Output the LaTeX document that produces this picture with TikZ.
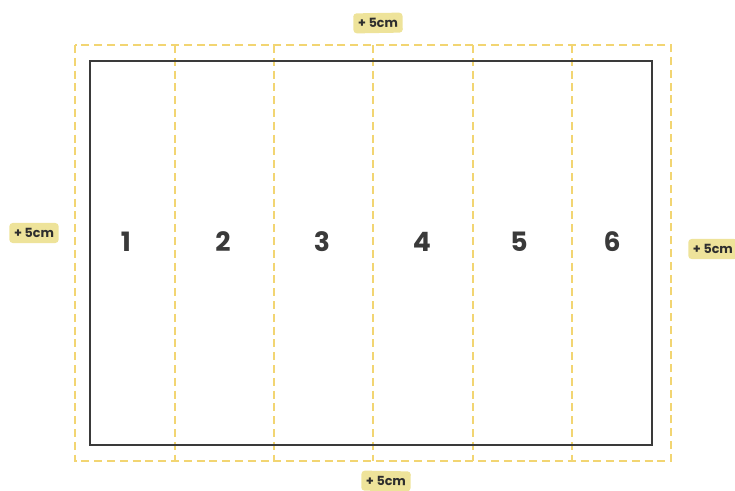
\documentclass[tikz,border=0pt]{standalone}
\usepackage{fontspec}
\setmainfont{Poppins}
\usepackage{xcolor}
\usepackage{tikz}
\usetikzlibrary{positioning}
\definecolor{PanelDark}{HTML}{3A3A3A}
\definecolor{BleedGold}{HTML}{F2D572}
\definecolor{TagGold}{HTML}{EEE39A}
\definecolor{TagText}{HTML}{2E2E2E}
\tikzset{
  trimline/.style={draw=PanelDark,line width=1.6pt},
  bleedline/.style={draw=BleedGold,line width=0.9pt,dash pattern=on 6pt off 3.6pt},
  panelnum/.style={font=\bfseries\fontsize{20}{20}\selectfont,text=PanelDark},
  bleedtag/.style={fill=TagGold,rounded corners=2.5pt,inner xsep=3.5pt,inner ysep=4pt,font=\bfseries\fontsize{9.5}{10}\selectfont,text=TagText}
}

\begin{document}
\begin{tikzpicture}[x=0.75pt,y=-0.75pt]
\useasboundingbox (0,0) rectangle (735,490);
% bleed frame and fold lines
\draw[bleedline] (75,45) rectangle (671,461);
\foreach \xf in {175,274,373,473,572}
  \draw[bleedline] (\xf,45) -- (\xf,461);
% trimmed sheet
\draw[trimline] (90,61) rectangle (652,445);
% panel numbers
\node[panelnum] (p1) at (126,242) {1};
\node[panelnum] (p2) at (223,242) {2};
\node[panelnum] (p3) at (322,242) {3};
\node[panelnum] (p4) at (422,242) {4};
\node[panelnum] (p5) at (519,242) {5};
\node[panelnum] (p6) at (612,242) {6};
% bleed tags
\node[bleedtag,rotate=1] (tagtop) at (378,23) {+ 5cm};
\node[bleedtag] (tagleft) at (34,233) {+ 5cm};
\node[bleedtag,anchor=west] (tagright) at (688,249) {+ 5cm};
\node[bleedtag,rotate=-1] (tagbottom) at (386,481) {+ 5cm};
\end{tikzpicture}
\end{document}
